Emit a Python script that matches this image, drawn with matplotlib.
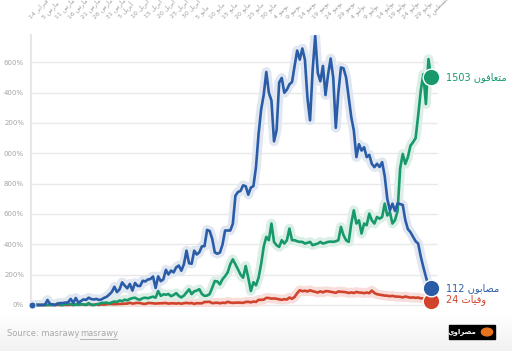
import numpy as np
import matplotlib.pyplot as plt
from matplotlib.patches import Rectangle, Circle

# daily counts, one value per reported day (Feb 14, Mar 1 .. Aug 3)
new_cases = [1, 1, 0, 0, 0, 1, 33, 7, 4, 0,
             8, 13, 13, 16, 17, 40, 14, 46, 15, 26,
             37, 33, 48, 39, 36, 40, 33, 37, 47, 54,
             69, 86, 120, 85, 103, 149, 128, 110, 139, 95,
             145, 126, 125, 160, 155, 168, 171, 188, 112, 189,
             157, 169, 232, 201, 227, 215, 248, 260, 226, 269,
             358, 275, 272, 358, 333, 348, 387, 388, 495, 488,
             436, 347, 338, 346, 399, 491, 491, 491, 535, 720,
             745, 752, 789, 783, 727, 774, 784, 910, 1127, 1289,
             1386, 1536, 1399, 1348, 1079, 1152, 1467, 1497, 1399, 1420,
             1455, 1470, 1577, 1677, 1618, 1691, 1617, 1363, 1218, 1547,
             1774, 1530, 1475, 1576, 1384, 1520, 1625, 1500, 1168, 1400,
             1566, 1560, 1500, 1370, 1240, 1150, 975, 1060, 1018, 1040,
             975, 990, 930, 909, 931, 910, 942, 850, 700, 624,
             668, 620, 670, 665, 660, 560, 500, 480, 450, 420,
             405, 320, 250, 186, 125, 112]

recovered = [0, 0, 0, 0, 0, 0, 0, 1, 0, 0,
             12, 0, 0, 7, 6, 6, 0, 6, 0, 7,
             3, 0, 13, 0, 0, 5, 7, 14, 14, 16,
             10, 18, 23, 20, 30, 25, 35, 30, 40, 45,
             48, 38, 35, 45, 48, 44, 50, 55, 48, 92,
             60, 70, 68, 72, 58, 66, 78, 60, 50, 62,
             82, 103, 72, 90, 95, 104, 72, 60, 62, 72,
             114, 158, 155, 136, 170, 190, 215, 268, 301, 268,
             235, 200, 180, 257, 180, 92, 150, 130, 180, 270,
             385, 449, 427, 537, 416, 394, 383, 427, 405, 427,
             504, 427, 427, 420, 416, 416, 405, 410, 416, 394,
             400, 405, 416, 405, 410, 416, 418, 416, 420, 427,
             515, 460, 427, 416, 537, 624, 537, 558, 471, 537,
             526, 602, 558, 537, 580, 569, 580, 668, 590, 613,
             537, 560, 620, 900, 996, 930, 975, 1050, 1073, 1100,
             1250, 1413, 1522, 1325, 1621, 1503]

deaths = [0, 0, 0, 0, 0, 0, 0, 0, 1, 0,
          1, 0, 0, 1, 0, 2, 0, 2, 2, 4,
          2, 1, 5, 3, 0, 5, 0, 4, 2, 5,
          6, 6, 5, 6, 7, 7, 9, 9, 15, 9,
          12, 14, 13, 8, 7, 13, 13, 11, 9, 11,
          11, 12, 13, 9, 11, 11, 9, 12, 8, 12,
          14, 11, 13, 7, 12, 11, 11, 20, 20, 21,
          12, 14, 15, 11, 15, 13, 21, 16, 14, 15,
          16, 15, 14, 20, 21, 17, 23, 20, 34, 34,
          35, 47, 46, 42, 43, 41, 37, 34, 38, 36,
          49, 41, 53, 78, 97, 91, 94, 89, 97, 91,
          87, 82, 90, 83, 91, 90, 87, 84, 80, 89,
          87, 86, 84, 79, 83, 79, 86, 82, 81, 78,
          82, 78, 95, 79, 71, 68, 65, 62, 61, 58,
          60, 56, 55, 54, 50, 56, 52, 48, 50, 47,
          49, 44, 43, 40, 35, 24]

tick_days = [14, 5, 11, 16, 21, 26, 31, 5, 10, 15, 20, 25, 30, 5, 10, 15,
             20, 25, 30, 4, 9, 14, 19, 24, 29, 4, 9, 14, 19, 24, 29, 3]
tick_months = (['فبراير'] + ['مارس'] * 6 + ['أبريل'] * 6 + ['مايو'] * 6
               + ['يونيو'] * 6 + ['يوليو'] * 6 + ['أغسطس'])
y_ticks = [0, 200, 400, 600, 800, 1000, 1200, 1400, 1600]
y_labels = ['0%', '200%', '400%', '600%', '800%', '000%', '200%', '400%', '600%']

series_names = ['وفيات', 'متعافون', 'مصابون']

# matplotlib has no arabic shaping, so pick presentation forms by hand
FORMS = {
    'ا': ('\uFE8D', '\uFE8E', None, None),
    'أ': ('\uFE83', '\uFE84', None, None),
    'ب': ('\uFE8F', '\uFE90', '\uFE91', '\uFE92'),
    'ت': ('\uFE95', '\uFE96', '\uFE97', '\uFE98'),
    'ر': ('\uFEAD', '\uFEAE', None, None),
    'س': ('\uFEB1', '\uFEB2', '\uFEB3', '\uFEB4'),
    'ص': ('\uFEB9', '\uFEBA', '\uFEBB', '\uFEBC'),
    'ط': ('\uFEC1', '\uFEC2', '\uFEC3', '\uFEC4'),
    'ع': ('\uFEC9', '\uFECA', '\uFECB', '\uFECC'),
    'غ': ('\uFECD', '\uFECE', '\uFECF', '\uFED0'),
    'ف': ('\uFED1', '\uFED2', '\uFED3', '\uFED4'),
    'ل': ('\uFEDD', '\uFEDE', '\uFEDF', '\uFEE0'),
    'م': ('\uFEE1', '\uFEE2', '\uFEE3', '\uFEE4'),
    'ن': ('\uFEE5', '\uFEE6', '\uFEE7', '\uFEE8'),
    'و': ('\uFEED', '\uFEEE', None, None),
    'ي': ('\uFEF1', '\uFEF2', '\uFEF3', '\uFEF4'),
}


def shape(word):
    out = []
    for k, ch in enumerate(word):
        f = FORMS[ch]
        join_prev = k > 0 and FORMS[word[k - 1]][2] is not None
        join_next = k + 1 < len(word) and f[2] is not None
        if join_prev and join_next:
            out.append(f[3])
        elif join_prev:
            out.append(f[1])
        elif join_next:
            out.append(f[2])
        else:
            out.append(f[0])
    return ''.join(reversed(out))


plt.rcParams['font.family'] = ['DejaVu Sans']

fig = plt.figure(figsize=(5.12, 3.51), dpi=100)

# footer gradient
bg = fig.add_axes([0, 0, 1, 0.1])
grad = np.linspace(0, 1, 50).reshape(-1, 1)
bg.imshow(grad, aspect='auto', cmap=plt.matplotlib.colors.LinearSegmentedColormap.from_list(
    'g', ['#f1f1f1', '#ffffff']), origin='lower', extent=[0, 1, 0, 1])
bg.axis('off')

ax = fig.add_axes([31 / 512, 1 - 306.5 / 351, 407 / 512, 271.5 / 351])
ax.set_facecolor('none')

x = np.arange(len(new_cases))
colors = ['#d2432c', '#17996b', '#2b5ca8']
halos = ['#f7dedb', '#dcefe7', '#e0e7f1']
data = [deaths, recovered, new_cases]

for vals, c, h in zip(data, colors, halos):
    ax.plot(x, vals, color=h, lw=7, solid_joinstyle='round', solid_capstyle='round', zorder=2)
for vals, c, h in zip(data, colors, halos):
    ax.plot(x, vals, color=c, lw=1.9, solid_joinstyle='round', zorder=3)

ax.plot(x[0], new_cases[0], 'o', color=colors[2], ms=5, mec='white', mew=0.6, zorder=4, clip_on=False)

for vals, c, name in zip(data, colors, series_names):
    ax.plot(x[-1], vals[-1], 'o', color=c, ms=12, mec='white', mew=1, zorder=5, clip_on=False)

label_y = {'وفيات': 1, 'متعافون': 0, 'مصابون': 0}
for vals, c, name in zip(data, colors, series_names):
    ax.annotate(f'{vals[-1]} ' + shape(name), (x[-1], vals[-1]), xytext=(11, label_y[name]),
                textcoords='offset points', color=c, fontsize=7, va='center', ha='left',
                annotation_clip=False)

ax.set_xlim(-0.4, 157.7)
ax.set_ylim(-10, 1780)
ax.set_yticks(y_ticks)
ax.set_yticklabels(y_labels)
ax.yaxis.grid(True, color='#e9e9e9', lw=1)
ax.set_axisbelow(True)
ax.tick_params(axis='y', length=0, pad=5, labelsize=5, labelcolor='#a5a5a5')

ax.xaxis.tick_top()
ax.set_xticks(np.arange(0, len(new_cases), 5))
ax.set_xticklabels([f'{d} ' + shape(m) for d, m in zip(tick_days, tick_months)],
                   rotation=45, ha='left', rotation_mode='anchor')
ax.tick_params(axis='x', length=0, pad=11, labelsize=4.5, labelcolor='#a0a0a0')

for s in ['top', 'right', 'bottom']:
    ax.spines[s].set_visible(False)
ax.spines['left'].set_color('#e6e6e6')
ax.spines['left'].set_linewidth(1.5)

# footer
fig.text(7 / 512, 1 - 334 / 351, 'Source: masrawy', fontsize=6, color='#a8a8a8', va='center')
fig.text(80 / 512, 1 - 334 / 351, 'masrawy', fontsize=6, color='#a8a8a8', va='center')
fig.add_artist(plt.Line2D([80 / 512, 117 / 512], [1 - 338.5 / 351] * 2, color='#a8a8a8', lw=0.6))

fig.add_artist(Rectangle((449 / 512, 1 - 339 / 351), 46 / 512, 14 / 351, color='black'))
fig.text(476 / 512, 1 - 332 / 351, shape('مصراوي'), fontsize=5, color='white', ha='right',
         va='center', fontweight='bold')
fig.add_artist(Circle((487 / 512, 1 - 332 / 351), 0.011, color='#e8731f', transform=fig.transFigure))

plt.savefig('out.png', dpi=100)
